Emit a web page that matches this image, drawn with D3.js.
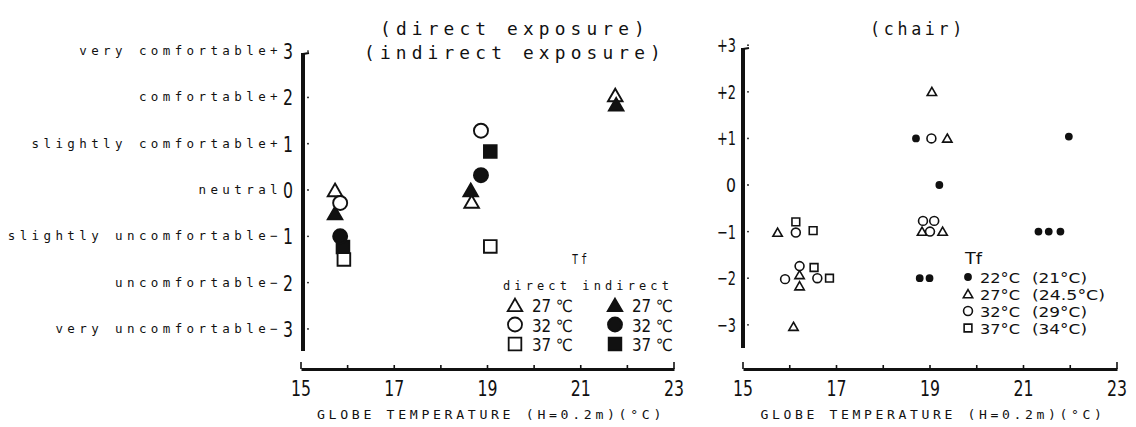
<!DOCTYPE html>
<html><head><meta charset="utf-8">
<script src="https://cdn.jsdelivr.net/npm/d3@7"></script>
<style>
body{margin:0;background:#fff;}
svg{display:block;}
.mono{font-family:"DejaVu Sans Mono",monospace;fill:#111;}
.num{font-family:"Liberation Sans Narrow","DejaVu Sans Condensed","DejaVu Sans",sans-serif;fill:#111;}
</style></head>
<body><svg id="c" width="1136" height="427"></svg>
<script>
// ---------- data ----------
const xTicks = [15,16,17,18,19,20,21,22,23];
const xTickLabels = [15,17,19,21,23];
const yTicks = [3,2,1,0,-1,-2,-3];
const yLabelWords = ["very comfortable+","comfortable+","slightly comfortable+","neutral ","slightly uncomfortable\u2212","uncomfortable\u2212","very uncomfortable\u2212"];
const yLabelNums = ["3","2","1","0","1","2","3"];
const yRightLabels = ["+3","+2","+1","0","\u22121","\u22122","\u22123"];
const xTitle = "GLOBE TEMPERATURE (H=0.2m)(\u00B0C)";

// left panel: direct / indirect exposure, Tf = 27, 32, 37 °C  [globe temp, vote]
const direct27   = [[15.73,0.0],[18.66,-0.25],[21.74,2.05]];
const direct32   = [[15.84,-0.28],[18.86,1.28]];
const direct37   = [[15.92,-1.5],[19.06,-1.22]];
const indirect27 = [[15.73,-0.5],[18.64,0.0],[21.76,1.85]];
const indirect32 = [[15.84,-1.0],[18.86,0.32]];
const indirect37 = [[15.9,-1.23],[19.06,0.83]];

// right panel: chair, Tf = 22, 27, 32, 37 °C
const chair22 = [[18.70,1],[21.97,1.04],[19.2,0],[21.32,-1],[21.54,-1],[21.79,-1],[18.78,-2],[18.99,-2]];
const chair27 = [[19.04,2],[19.37,1],[15.74,-1.02],[18.83,-1],[19.27,-1],[16.21,-1.93],[16.21,-2.17],[16.08,-3.04]];
const chair32 = [[19.03,1],[16.13,-1.02],[18.85,-0.77],[19.09,-0.77],[19.0,-1.0],[15.9,-2.02],[16.21,-1.74],[16.59,-2.0]];
const chair37 = [[16.13,-0.79],[16.5,-0.98],[16.52,-1.77],[16.85,-2.0]];

const leftLegend = [
  {label:"27 \u2103", shape:"tri"},{label:"32 \u2103", shape:"cir"},{label:"37 \u2103", shape:"sq"}];
const rightLegend = [
  {label:"22\u00B0C", sub:"(21\u00B0C)", shape:"dot"},
  {label:"27\u00B0C", sub:"(24.5\u00B0C)", shape:"tri"},
  {label:"32\u00B0C", sub:"(29\u00B0C)", shape:"cir"},
  {label:"37\u00B0C", sub:"(34\u00B0C)", shape:"sq"}];

// ---------- drawing ----------
const svg = d3.select("#c");
const ink = "#111";

const xL = d3.scaleLinear().domain([15,23]).range([301,674]);
const yL = d3.scaleLinear().domain([-3,3]).range([328.9,51.1]);
const xR = d3.scaleLinear().domain([15,23]).range([743,1117]);
const yR = d3.scaleLinear().domain([-3,3]).range([324.8,45.2]);

const symType = {tri:d3.symbolTriangle, cir:d3.symbolCircle, sq:d3.symbolSquare, dot:d3.symbolCircle};
function sym(shape, big){
  const areaBig = {tri:92, cir:155, sq:160, dot:60};
  const areaSmall = {tri:38, cir:62, sq:60, dot:30};
  return d3.symbol().type(symType[shape]).size((big?areaBig:areaSmall)[shape])();
}
function plotPts(data, xs, ys, shape, filled, big){
  svg.append("g").selectAll("path").data(data).join("path")
    .attr("d", sym(shape,big))
    .attr("transform", d=>`translate(${xs(d[0])},${ys(d[1]) + (shape==="tri"? (big?2:1):0)})`)
    .attr("fill", filled? ink : "#fff")
    .attr("stroke", ink)
    .attr("stroke-width", big?1.9:1.6);
}
function fit(sel, w){ return sel.attr("textLength", w).attr("lengthAdjust","spacingAndGlyphs"); }

function xAxis(xs, y, titleCx, titleW){
  const g = svg.append("g").attr("transform",`translate(0,${y})`);
  const ax = d3.axisBottom(xs).tickValues(xTicks).tickSize(0).tickFormat("");
  g.call(ax);
  g.select(".domain").attr("stroke",ink).attr("stroke-width",3);
  g.selectAll(".tk").data(xTicks).join("line").attr("class","tk")
    .attr("x1",d=>xs(d)).attr("x2",d=>xs(d))
    .attr("y1",0).attr("y2",(d,i)=> (i===0||i===xTicks.length-1)? -7 : -4)
    .attr("stroke",ink).attr("stroke-width",1.6);
  g.selectAll(".tl").data(xTickLabels).join("text").attr("class","tl num")
    .attr("x",d=>xs(d)).attr("y",27)
    .attr("text-anchor","middle").attr("font-size",21).text(d=>d)
    .call(s=>fit(s,20));
  svg.append("text").attr("class","mono")
    .attr("x",titleCx).attr("y",y+50)
    .attr("text-anchor","middle").attr("font-size",13).attr("letter-spacing",3.6)
    .text(xTitle).call(s=>fit(s,titleW));
}
function yAxis(ys, x, top, bottom){
  svg.append("line").attr("x1",x).attr("x2",x).attr("y1",top).attr("y2",bottom)
    .attr("stroke",ink).attr("stroke-width",4);
  svg.append("g").selectAll("circle").data(yTicks).join("circle")
    .attr("cx",x+5).attr("cy",d=>ys(d)).attr("r",0.9).attr("fill",ink);
  svg.append("line").attr("x1",x).attr("x2",x+6).attr("y1",top+1).attr("y2",top)
    .attr("stroke",ink).attr("stroke-width",2);
}

// ---- left panel ----
yAxis(yL, 303, 53, 351);
xAxis(xL, 369, 491, 348);
const ylab = svg.append("g");
yTicks.forEach((v,i)=>{
  ylab.append("text").attr("class","mono").attr("x",282).attr("y",yL(v)+4).attr("text-anchor","end")
    .attr("font-size",12.5).attr("letter-spacing",4.4).text(yLabelWords[i]);
  ylab.append("text").attr("class","num").attr("x",293).attr("y",yL(v)+8).attr("text-anchor","end")
    .attr("font-size",21).text(yLabelNums[i]).call(s=>fit(s,10));
});
svg.append("text").attr("class","mono").attr("x",515).attr("y",35)
  .attr("text-anchor","middle").attr("font-size",18).attr("letter-spacing",5.2).text("(direct exposure)")
  .call(s=>fit(s,270));
svg.append("text").attr("class","mono").attr("x",515).attr("y",59)
  .attr("text-anchor","middle").attr("font-size",18).attr("letter-spacing",5.2).text("(indirect exposure)")
  .call(s=>fit(s,302));

plotPts(direct27, xL, yL, "tri", false, true);
plotPts(indirect27, xL, yL, "tri", true, true);
plotPts(direct32, xL, yL, "cir", false, true);
plotPts(indirect37, xL, yL, "sq", true, true);
plotPts(direct37, xL, yL, "sq", false, true);
plotPts(indirect32, xL, yL, "cir", true, true);

// left legend
svg.append("text").attr("class","mono").attr("x",581).attr("y",264).attr("text-anchor","middle")
  .attr("font-size",14).attr("letter-spacing",4).text("Tf").call(s=>fit(s,18));
svg.append("text").attr("class","mono").attr("x",503).attr("y",290)
  .attr("font-size",12.5).attr("letter-spacing",4.3).text("direct indirect").call(s=>fit(s,170));
const lgL = svg.append("g");
leftLegend.forEach((d,i)=>{
  const yy = 305 + i*19.5;
  lgL.append("path").attr("d",sym(d.shape,true)).attr("transform",`translate(515,${yy+(d.shape==="tri"?2:0)})`)
    .attr("fill","#fff").attr("stroke",ink).attr("stroke-width",1.8);
  lgL.append("text").attr("class","num").attr("x",532).attr("y",yy+7).attr("font-size",17).text(d.label)
    .call(s=>fit(s,41));
  lgL.append("path").attr("d",sym(d.shape,true)).attr("transform",`translate(615,${yy+(d.shape==="tri"?2:0)})`)
    .attr("fill",ink).attr("stroke",ink).attr("stroke-width",1.8);
  lgL.append("text").attr("class","num").attr("x",632).attr("y",yy+7).attr("font-size",17).text(d.label)
    .call(s=>fit(s,41));
});

// ---- right panel ----
yAxis(yR, 743, 48, 348);
xAxis(xR, 369, 933, 345);
svg.append("g").selectAll("text").data(yTicks).join("text").attr("class","num")
  .attr("x",736).attr("y",d=>yR(d)+7).attr("text-anchor","end").attr("font-size",20)
  .text((d,i)=>yRightLabels[i])
  .each(function(d,i){ fit(d3.select(this), yRightLabels[i].length>1?19:10); });
svg.append("text").attr("class","mono").attr("x",918).attr("y",35)
  .attr("text-anchor","middle").attr("font-size",18).attr("letter-spacing",4).text("(chair)")
  .call(s=>fit(s,96));

plotPts(chair22, xR, yR, "dot", true, false);
plotPts(chair27, xR, yR, "tri", false, false);
plotPts(chair32, xR, yR, "cir", false, false);
plotPts(chair37, xR, yR, "sq", false, false);

svg.append("text").attr("class","num").attr("x",965).attr("y",264)
  .attr("font-size",16).text("Tf").call(s=>fit(s,17));
const lgR = svg.append("g");
const subW = [55,73,55,55];
rightLegend.forEach((d,i)=>{
  const yy = 277 + i*17;
  lgR.append("path").attr("d",sym(d.shape,false)).attr("transform",`translate(968,${yy+(d.shape==="tri"?1:0)})`)
    .attr("fill",d.shape==="dot"?ink:"#fff").attr("stroke",ink).attr("stroke-width",1.6);
  lgR.append("text").attr("class","num").attr("x",980).attr("y",yy+5.5).attr("font-size",14.5)
    .text(d.label).call(s=>fit(s,40));
  lgR.append("text").attr("class","num").attr("x",1032).attr("y",yy+5.5).attr("font-size",14.5)
    .text(d.sub).call(s=>fit(s,subW[i]));
});
</script></body></html>
